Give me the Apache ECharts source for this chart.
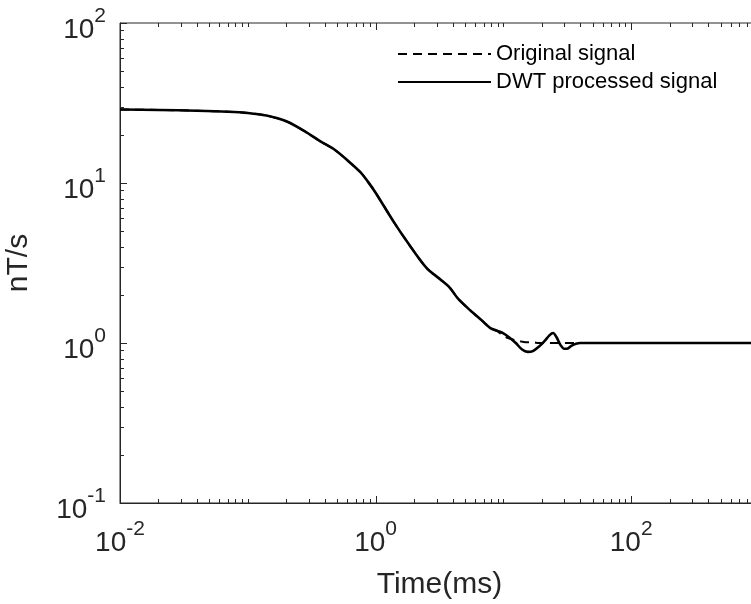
<!DOCTYPE html>
<html><head><meta charset="utf-8">
<script src="https://cdn.jsdelivr.net/npm/echarts@6/dist/echarts.min.js"></script>
<style>html,body{margin:0;padding:0;background:#fff}#c{width:751px;height:604px}</style>
</head><body><div id="c"></div><script>
// ---- data ----
const timeMs = [0.01, 0.02, 0.04, 0.07, 0.1, 0.14, 0.2, 0.28, 0.37, 0.47, 0.6, 0.76, 0.87, 1.0, 1.37, 1.8, 2.5, 3.2, 3.8, 4.4, 5.5, 6.8, 7.9, 9.0, 10, 11, 12.5, 14, 15.5, 17, 19, 21, 23, 24.5, 26, 28, 30, 32, 34, 37, 40, 50, 70, 100, 200, 500, 1000];
const originalSignal = [28.8, 28.6, 28.3, 27.9, 27.4, 26.4, 24.3, 21.0, 18.2, 16.3, 13.9, 11.7, 10.2, 8.7, 5.8, 4.2, 2.95, 2.5, 2.22, 1.9, 1.6, 1.38, 1.24, 1.18, 1.11, 1.07, 1.04, 1.02, 1.01, 1.01, 1.0, 1.0, 1.0, 1.0, 1.0, 1.0, 1.0, 1.0, 1.0, 1.0, 1.0, 1.0, 1.0, 1.0, 1.0, 1.0, 1.0];
const dwtSignal = [28.8, 28.6, 28.3, 27.9, 27.4, 26.4, 24.3, 21.0, 18.2, 16.3, 13.9, 11.7, 10.2, 8.7, 5.8, 4.2, 2.95, 2.5, 2.22, 1.9, 1.6, 1.38, 1.24, 1.19, 1.15, 1.09, 1.0, 0.91, 0.88, 0.89, 0.95, 1.03, 1.12, 1.155, 1.09, 0.97, 0.92, 0.925, 0.96, 0.99, 1.0, 1.0, 1.0, 1.0, 1.0, 1.0, 1.0];
const seriesNames = ['Original signal', 'DWT processed signal'];
const xRange = [0.01, 1000];
const yRange = [0.1, 100];
const xLabelledExponents = [-2, 0, 2];
const yLabelledExponents = [-1, 0, 1, 2];

// ---- ticks (axis structure, log decades) ----
const xTicks = [];
for (let e = -2; e <= 2; e++) for (let m = 1; m <= 9; m++) {
  xTicks.push([+(m * Math.pow(10, e)).toPrecision(6), (m === 1 && xLabelledExponents.includes(e)) ? 7 : 4]);
}
const yTicks = [];
for (let e = -1; e <= 1; e++) for (let m = 1; m <= 9; m++) {
  yTicks.push([+(m * Math.pow(10, e)).toPrecision(6), m === 1 ? 7 : 4]);
}
yTicks.push([100, 7]);

const FONT = "'Liberation Sans', Arial, Helvetica, sans-serif";
const AX = '#262626';
function supLabel(v, shown) {
  const e = Math.round(Math.log10(v));
  if (!shown.includes(e)) return '';
  return '{b|10}{s|' + e + '}';
}
const rich = {
  b: { fontSize: 28, fontFamily: FONT, color: AX, padding: [10, 0, 0, 0] },
  s: { fontSize: 21, fontFamily: FONT, color: AX, verticalAlign: 'top' }
};

const chart = echarts.init(document.getElementById('c'), null, { renderer: 'canvas' });
chart.setOption({
  animation: false,
  backgroundColor: '#fff',
  grid: { left: 120, top: 23, width: 639, height: 480, show: true, borderColor: AX, borderWidth: 1,
          backgroundColor: 'transparent', containLabel: false, outerBoundsMode: 'none' },
  legend: {
    data: seriesNames.map(n => ({ name: n, itemStyle: { opacity: 0 } })),
    orient: 'vertical', left: 392, top: 38, itemWidth: 93, itemHeight: 14, itemGap: 6,
    textStyle: { fontSize: 22, fontFamily: FONT, color: '#000' }, selectedMode: false
  },
  xAxis: {
    type: 'log', logBase: 10, min: xRange[0], max: xRange[1],
    name: 'Time(ms)', nameLocation: 'middle', nameGap: 67,
    nameTextStyle: { fontSize: 30, fontFamily: FONT, color: AX },
    axisLine: { show: true, lineStyle: { color: AX, width: 1 } },
    axisTick: { show: false }, splitLine: { show: false }, minorTick: { show: false },
    axisLabel: { margin: 16, formatter: v => supLabel(v, xLabelledExponents), rich: rich, showMaxLabel: false }
  },
  yAxis: {
    type: 'log', logBase: 10, min: yRange[0], max: yRange[1],
    name: 'nT/s', nameLocation: 'middle', nameGap: 86, nameRotate: 90,
    nameTextStyle: { fontSize: 30, fontFamily: FONT, color: AX },
    axisLine: { show: true, lineStyle: { color: AX, width: 1 } },
    axisTick: { show: false }, splitLine: { show: false }, minorTick: { show: false },
    axisLabel: { margin: 14, formatter: v => supLabel(v, yLabelledExponents), rich: rich, padding: [4, 0, 0, 0] }
  },
  series: [
    {
      name: seriesNames[0], type: 'line', data: timeMs.map((t, i) => [t, originalSignal[i]]),
      symbol: 'none', smooth: 0.3, lineStyle: { color: '#000', width: 2, type: [9, 6] }, itemStyle: { color: '#000' }, z: 3
    },
    {
      name: seriesNames[1], type: 'line', data: timeMs.map((t, i) => [t, dwtSignal[i]]),
      symbol: 'none', smooth: 0.3, lineStyle: { color: '#000', width: 2.6 }, itemStyle: { color: '#000' }, z: 4
    },
    {
      type: 'custom', silent: true, z: 5,
      data: xTicks.map(d => [d[0], yRange[0], d[1]]),
      renderItem: (params, api) => {
        const v = api.value(0), len = api.value(2);
        const b = api.coord([v, yRange[0]]), t = api.coord([v, yRange[1]]);
        const x = Math.round(b[0]) + 0.5;
        return { type: 'group', children: [
          { type: 'line', shape: { x1: x, y1: b[1], x2: x, y2: b[1] - len }, style: { stroke: AX, lineWidth: 1 } },
          { type: 'line', shape: { x1: x, y1: t[1], x2: x, y2: t[1] + len }, style: { stroke: AX, lineWidth: 1 } }
        ] };
      }
    },
    {
      type: 'custom', silent: true, z: 5,
      data: yTicks.map(d => [xRange[0], d[0], d[1]]),
      renderItem: (params, api) => {
        const v = api.value(1), len = api.value(2);
        const l = api.coord([xRange[0], v]), r = api.coord([xRange[1], v]);
        const y = Math.round(l[1]) + 0.5;
        return { type: 'group', children: [
          { type: 'line', shape: { x1: l[0], y1: y, x2: l[0] + len, y2: y }, style: { stroke: AX, lineWidth: 1 } },
          { type: 'line', shape: { x1: r[0], y1: y, x2: r[0] - len, y2: y }, style: { stroke: AX, lineWidth: 1 } }
        ] };
      }
    }
  ]
});
</script></body></html>
